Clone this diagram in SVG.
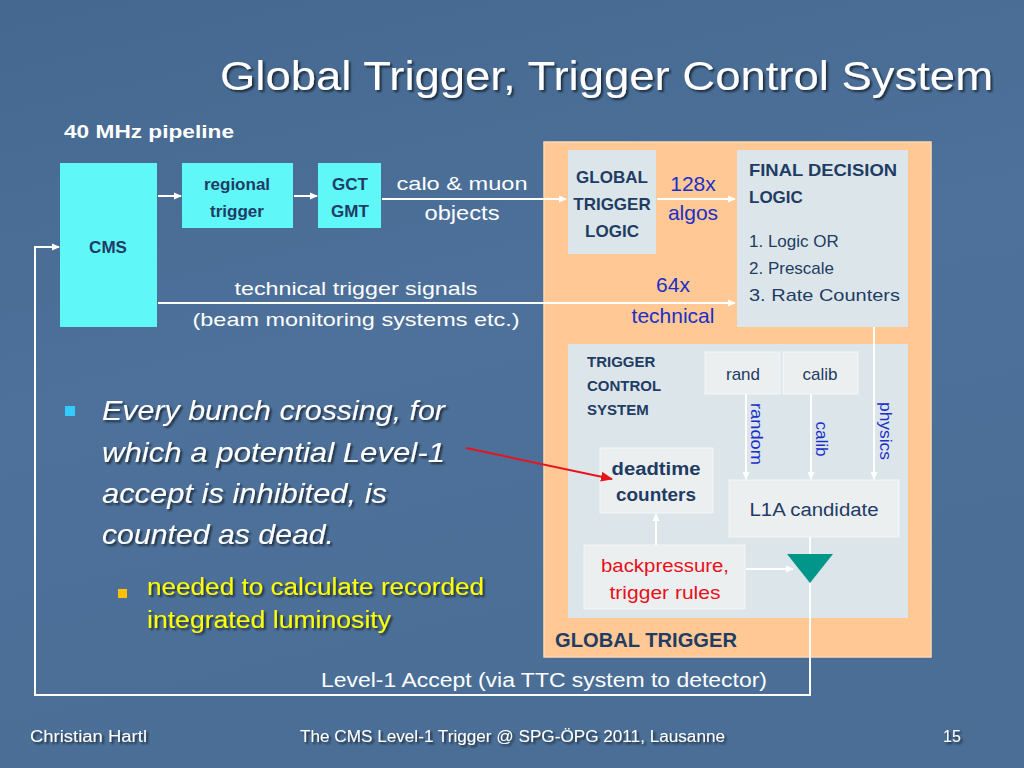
<svg xmlns="http://www.w3.org/2000/svg" width="1024" height="768" viewBox="0 0 1024 768">
<defs>
<linearGradient id="bg" x1="0" y1="0" x2="0.3" y2="1">
<stop offset="0" stop-color="#44688f"/>
<stop offset="0.5" stop-color="#4d719a"/>
<stop offset="1" stop-color="#4a6e96"/>
</linearGradient>
<filter id="sh" x="-5%" y="-20%" width="110%" height="140%">
<feDropShadow dx="2" dy="2" stdDeviation="0.8" flood-color="#000" flood-opacity="0.6"/>
</filter>
<marker id="aw" markerWidth="8" markerHeight="8" refX="7" refY="4" orient="auto" markerUnits="userSpaceOnUse">
<path d="M0,0.5 L8,4 L0,7.5 Z" fill="#ffffff"/>
</marker>
<marker id="ar" markerWidth="12" markerHeight="10" refX="11" refY="5" orient="auto" markerUnits="userSpaceOnUse">
<path d="M0,0 L12,5 L0,10 Z" fill="#e8141c"/>
</marker>
</defs>
<style>
text{font-family:"Liberation Sans","Open Sans",sans-serif}
.w{fill:#ffffff}
.db{fill:#1f3c64;font-weight:bold}
.dr{fill:#1f3c64}
.bl{fill:#1a30c8}
.cy{fill:#5ff7f7}
.lb{fill:#dce6ea}
.lg{fill:#eceff0;stroke:#f4f6f6;stroke-width:1}
.ln{fill:none;stroke:#ffffff;stroke-width:2}
.c{text-anchor:middle}
</style>
<rect width="1024" height="768" fill="url(#bg)"/>

<g id="title">
<text x="993" y="90" class="w" style="text-anchor:end" font-size="40" textLength="773" lengthAdjust="spacingAndGlyphs" filter="url(#sh)">Global Trigger, Trigger Control System</text>
<text x="64" y="138" class="w" font-size="19" font-weight="bold" textLength="170" lengthAdjust="spacingAndGlyphs">40 MHz pipeline</text>
</g>

<g id="global-trigger">
<rect x="544" y="142" width="387" height="515" fill="#ffc894" stroke="#ffd9b3" stroke-width="1.5"/>
<text x="555" y="647" class="db" font-size="20" textLength="182" lengthAdjust="spacingAndGlyphs">GLOBAL TRIGGER</text>
</g>

<g id="gtl">
<rect x="568" y="150" width="88" height="104" class="lb"/>
<text x="612" y="183" class="db c" font-size="17">GLOBAL</text>
<text x="612" y="210" class="db c" font-size="17">TRIGGER</text>
<text x="612" y="237" class="db c" font-size="17">LOGIC</text>
</g>

<g id="fdl">
<rect x="737" y="150" width="171" height="177" class="lb"/>
<text x="749" y="176" class="db" font-size="17" textLength="148" lengthAdjust="spacingAndGlyphs">FINAL DECISION</text>
<text x="749" y="203" class="db" font-size="17">LOGIC</text>
<text x="749" y="247" class="dr" font-size="17">1. Logic OR</text>
<text x="749" y="274" class="dr" font-size="17">2. Prescale</text>
<text x="749" y="301" class="dr" font-size="17" textLength="151" lengthAdjust="spacingAndGlyphs">3. Rate Counters</text>
</g>

<g id="tcs">
<rect x="568" y="344" width="340" height="274" class="lb"/>
<text x="587" y="367" class="db" font-size="15">TRIGGER</text>
<text x="587" y="391" class="db" font-size="15">CONTROL</text>
<text x="587" y="415" class="db" font-size="15">SYSTEM</text>
</g>

<g id="rand">
<rect x="705" y="352" width="75" height="42" class="lg"/>
<text x="743" y="380" class="dr c" font-size="17">rand</text>
</g>
<g id="calib">
<rect x="783" y="352" width="75" height="42" class="lg"/>
<text x="820" y="380" class="dr c" font-size="17">calib</text>
</g>
<g id="l1a">
<rect x="729" y="480" width="170" height="57" class="lg"/>
<text x="814" y="516" class="dr c" font-size="18" textLength="129" lengthAdjust="spacingAndGlyphs">L1A candidate</text>
</g>
<g id="deadtime">
<rect x="600" y="448" width="113" height="65" class="lg"/>
<text x="656" y="475" class="db c" font-size="18" textLength="89" lengthAdjust="spacingAndGlyphs">deadtime</text>
<text x="656" y="501" class="db c" font-size="18" textLength="80" lengthAdjust="spacingAndGlyphs">counters</text>
</g>
<g id="backpressure">
<rect x="584" y="545" width="161" height="64" class="lg"/>
<text x="665" y="572" class="c" fill="#e8101a" font-size="18" textLength="128" lengthAdjust="spacingAndGlyphs">backpressure,</text>
<text x="665" y="599" class="c" fill="#e8101a" font-size="18" textLength="111" lengthAdjust="spacingAndGlyphs">trigger rules</text>
</g>
<g id="gate">
<polygon points="787,554 833,554 810,583" fill="#00978a"/>
</g>

<g id="cms">
<rect x="60" y="163" width="97" height="164" class="cy"/>
<text x="108" y="253" class="db c" font-size="17">CMS</text>
</g>
<g id="regional">
<rect x="182" y="163" width="111" height="65" class="cy"/>
<text x="237" y="190" class="db c" font-size="17">regional</text>
<text x="237" y="217" class="db c" font-size="17">trigger</text>
</g>
<g id="gctgmt">
<rect x="318" y="163" width="63" height="65" class="cy"/>
<text x="350" y="190" class="db c" font-size="17">GCT</text>
<text x="350" y="217" class="db c" font-size="17">GMT</text>
</g>

<g id="connectors">
<line x1="158" y1="196" x2="181" y2="196" class="ln" marker-end="url(#aw)"/>
<line x1="294" y1="196" x2="317" y2="196" class="ln" marker-end="url(#aw)"/>
<line x1="382" y1="199" x2="566" y2="199" class="ln" marker-end="url(#aw)"/>
<line x1="657" y1="199" x2="735" y2="199" class="ln" marker-end="url(#aw)"/>
<line x1="158" y1="303" x2="735" y2="303" class="ln" marker-end="url(#aw)"/>
<line x1="746" y1="394" x2="746" y2="479" class="ln" marker-end="url(#aw)"/>
<line x1="811" y1="394" x2="811" y2="479" class="ln" marker-end="url(#aw)"/>
<line x1="874" y1="327" x2="874" y2="479" class="ln" marker-end="url(#aw)"/>
<line x1="656" y1="545" x2="656" y2="514" class="ln" marker-end="url(#aw)"/>
<line x1="746" y1="569" x2="793" y2="569" class="ln" marker-end="url(#aw)"/>
<line x1="810" y1="537" x2="810" y2="554" class="ln"/>
<polyline points="810,583 810,695 35,695 35,247 59,247" class="ln" marker-end="url(#aw)"/>
<line x1="466" y1="448" x2="612" y2="479" stroke="#e8141c" stroke-width="2" marker-end="url(#ar)"/>
<text x="693" y="191" class="bl c" font-size="21">128x</text>
<text x="693" y="220" class="bl c" font-size="21">algos</text>
<text x="673" y="292" class="bl c" font-size="21">64x</text>
<text x="673" y="323" class="bl c" font-size="21">technical</text>
<text x="462" y="190" class="w c" font-size="19" textLength="131" lengthAdjust="spacingAndGlyphs">calo &amp; muon</text>
<text x="462" y="220" class="w c" font-size="20" textLength="75" lengthAdjust="spacingAndGlyphs">objects</text>
<text x="356" y="295" class="w c" font-size="19" textLength="243" lengthAdjust="spacingAndGlyphs">technical trigger signals</text>
<text x="356" y="326" class="w c" font-size="19" textLength="327" lengthAdjust="spacingAndGlyphs">(beam monitoring systems etc.)</text>
<text x="544" y="687" class="w c" font-size="20" textLength="446" lengthAdjust="spacingAndGlyphs">Level-1 Accept (via TTC system to detector)</text>
<text transform="translate(751,434) rotate(90)" class="bl c" font-size="17" textLength="62" lengthAdjust="spacingAndGlyphs">random</text>
<text transform="translate(816,439) rotate(90)" class="bl c" font-size="17">calib</text>
<text transform="translate(880,431) rotate(90)" class="bl c" font-size="17" textLength="58" lengthAdjust="spacingAndGlyphs">physics</text>
</g>

<g id="bullets">
<rect x="65" y="406" width="10" height="10" fill="#33ccff"/>
<g class="w" font-size="28" font-style="italic" filter="url(#sh)">
<text x="102" y="420" textLength="343" lengthAdjust="spacingAndGlyphs">Every bunch crossing, for</text>
<text x="102" y="462" textLength="343" lengthAdjust="spacingAndGlyphs">which a potential Level-1</text>
<text x="102" y="503" textLength="285" lengthAdjust="spacingAndGlyphs">accept is inhibited, is</text>
<text x="102" y="544" textLength="232" lengthAdjust="spacingAndGlyphs">counted as dead.</text>
</g>
<rect x="118" y="589" width="9" height="9" fill="#ffc000"/>
<g fill="#ffff00" font-size="23" filter="url(#sh)">
<text x="147" y="595" textLength="337" lengthAdjust="spacingAndGlyphs">needed to calculate recorded</text>
<text x="147" y="628" textLength="244" lengthAdjust="spacingAndGlyphs">integrated luminosity</text>
</g>
</g>

<g id="footer" class="w" font-size="16" filter="url(#sh)">
<text x="30" y="742" textLength="117" lengthAdjust="spacingAndGlyphs">Christian Hartl</text>
<text x="300" y="742" textLength="425" lengthAdjust="spacingAndGlyphs">The CMS Level-1 Trigger @ SPG-ÖPG 2011, Lausanne</text>
<text x="952" y="742" class="c">15</text>
</g>
</svg>
